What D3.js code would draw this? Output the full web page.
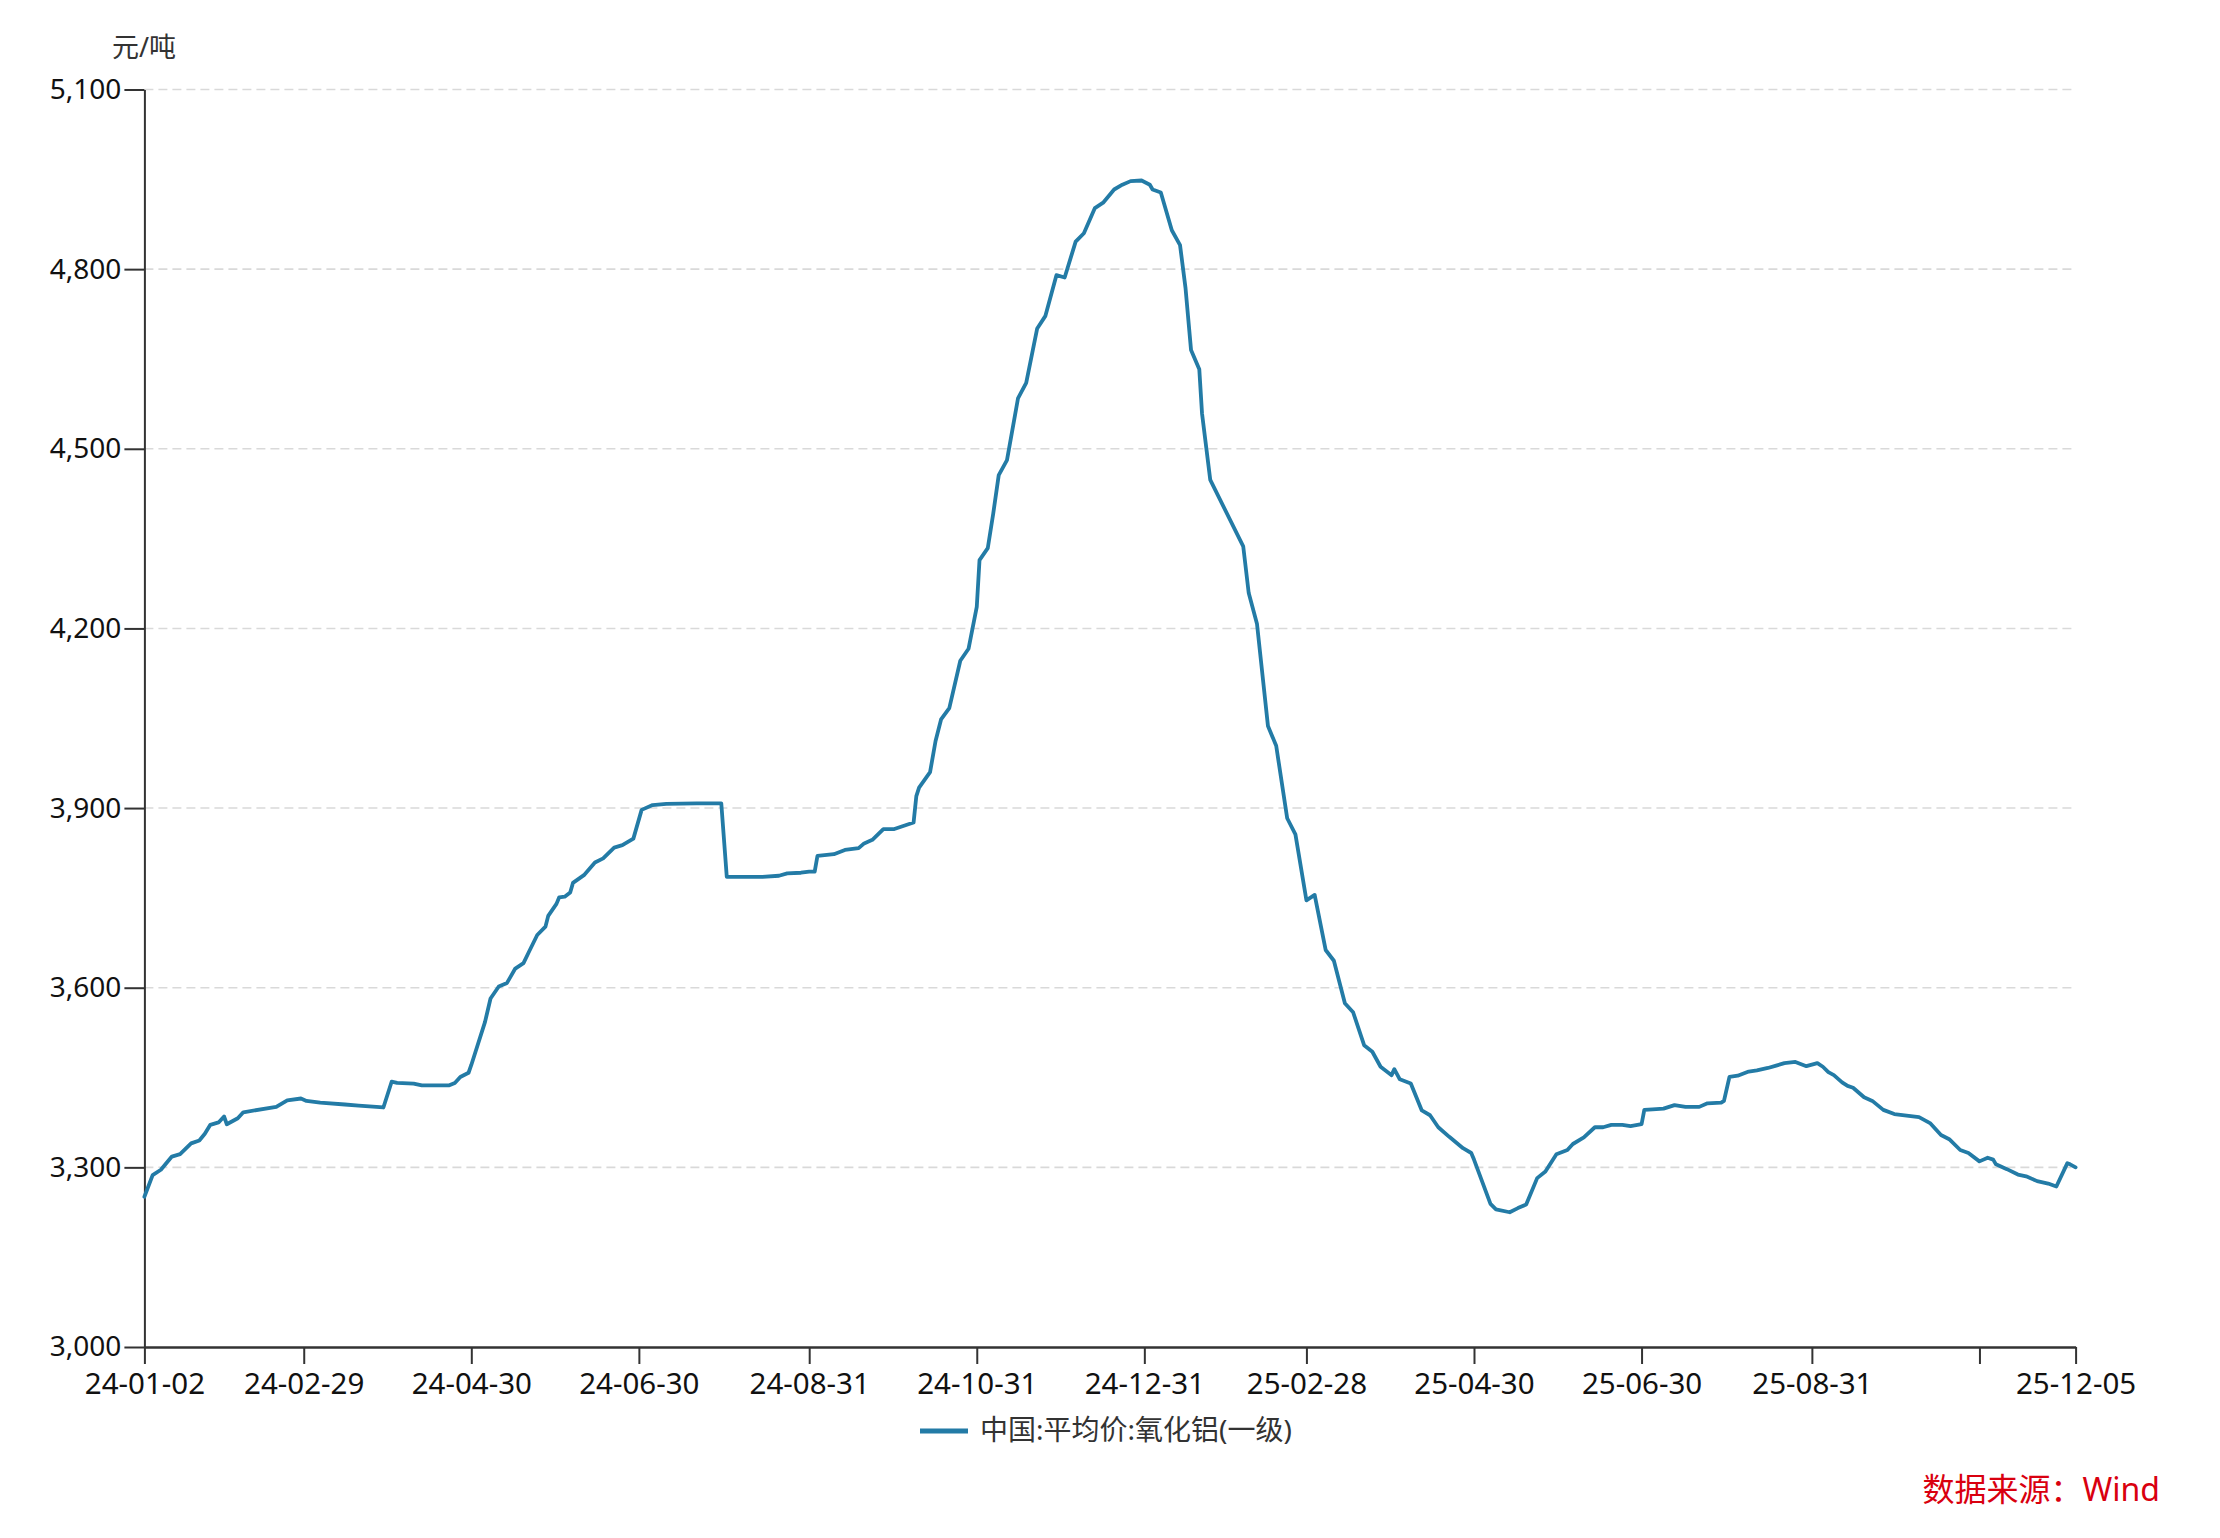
<!DOCTYPE html>
<html><head><meta charset="utf-8">
<script src="https://cdn.jsdelivr.net/npm/d3@7"></script>
<style>
body{margin:0;background:#fff;}
svg text{font-family:"Noto Sans","Noto Sans CJK SC",sans-serif;}
</style></head><body>
<svg id="chart" width="2220" height="1538"></svg>
<script>
const dates = ["2024-01-02","2024-01-05","2024-01-08","2024-01-12","2024-01-15","2024-01-19","2024-01-22","2024-01-24","2024-01-26","2024-01-29","2024-01-31","2024-02-01","2024-02-05","2024-02-07","2024-02-19","2024-02-23","2024-02-28","2024-03-01","2024-03-06","2024-03-15","2024-03-20","2024-03-29","2024-04-01","2024-04-03","2024-04-09","2024-04-12","2024-04-22","2024-04-24","2024-04-26","2024-04-29","2024-04-30","2024-05-05","2024-05-07","2024-05-10","2024-05-13","2024-05-16","2024-05-19","2024-05-21","2024-05-24","2024-05-27","2024-05-28","2024-05-31","2024-06-01","2024-06-03","2024-06-05","2024-06-06","2024-06-10","2024-06-14","2024-06-17","2024-06-21","2024-06-24","2024-06-28","2024-07-01","2024-07-05","2024-07-10","2024-07-21","2024-07-30","2024-08-01","2024-08-14","2024-08-20","2024-08-23","2024-08-28","2024-08-31","2024-09-02","2024-09-03","2024-09-09","2024-09-13","2024-09-18","2024-09-20","2024-09-23","2024-09-27","2024-10-01","2024-10-08","2024-10-09","2024-10-10","2024-10-14","2024-10-16","2024-10-18","2024-10-21","2024-10-25","2024-10-28","2024-10-31","2024-11-01","2024-11-04","2024-11-06","2024-11-08","2024-11-11","2024-11-15","2024-11-18","2024-11-22","2024-11-25","2024-11-29","2024-12-02","2024-12-06","2024-12-09","2024-12-13","2024-12-16","2024-12-20","2024-12-23","2024-12-26","2024-12-30","2025-01-02","2025-01-03","2025-01-06","2025-01-10","2025-01-13","2025-01-15","2025-01-17","2025-01-20","2025-01-21","2025-01-24","2025-02-05","2025-02-07","2025-02-10","2025-02-14","2025-02-17","2025-02-21","2025-02-24","2025-02-28","2025-03-03","2025-03-07","2025-03-10","2025-03-14","2025-03-17","2025-03-21","2025-03-24","2025-03-27","2025-03-31","2025-04-01","2025-04-03","2025-04-07","2025-04-11","2025-04-14","2025-04-17","2025-04-21","2025-04-26","2025-04-29","2025-04-30","2025-05-06","2025-05-08","2025-05-13","2025-05-16","2025-05-19","2025-05-23","2025-05-26","2025-05-30","2025-06-03","2025-06-05","2025-06-09","2025-06-13","2025-06-16","2025-06-19","2025-06-23","2025-06-26","2025-06-30","2025-07-01","2025-07-04","2025-07-08","2025-07-12","2025-07-16","2025-07-21","2025-07-24","2025-07-29","2025-07-30","2025-08-01","2025-08-04","2025-08-08","2025-08-11","2025-08-15","2025-08-18","2025-08-21","2025-08-25","2025-08-29","2025-09-02","2025-09-04","2025-09-06","2025-09-08","2025-09-11","2025-09-13","2025-09-15","2025-09-19","2025-09-22","2025-09-26","2025-09-30","2025-10-09","2025-10-13","2025-10-17","2025-10-20","2025-10-24","2025-10-27","2025-10-31","2025-11-03","2025-11-05","2025-11-06","2025-11-10","2025-11-14","2025-11-17","2025-11-21","2025-11-25","2025-11-28","2025-12-02","2025-12-03","2025-12-05"];
const values = [3251,3287,3296,3318,3322,3340,3345,3356,3371,3375,3385,3372,3382,3392,3401,3412,3415,3411,3408,3405,3403,3400,3443,3441,3440,3437,3437,3441,3451,3458,3471,3543,3582,3602,3608,3632,3641,3660,3688,3702,3720,3740,3751,3752,3759,3775,3788,3809,3816,3834,3838,3849,3897,3905,3907,3908,3908,3785,3785,3787,3791,3792,3794,3794,3820,3823,3830,3833,3841,3847,3865,3865,3876,3920,3934,3960,4012,4048,4067,4146,4166,4236,4314,4334,4392,4456,4481,4584,4610,4701,4722,4790,4786,4846,4860,4902,4911,4933,4941,4947,4948,4941,4933,4928,4865,4840,4768,4665,4633,4559,4448,4337,4259,4208,4037,4004,3883,3856,3746,3755,3663,3645,3574,3559,3504,3493,3468,3454,3464,3447,3440,3395,3387,3367,3351,3332,3324,3313,3239,3230,3225,3232,3238,3282,3293,3322,3329,3339,3350,3367,3367,3371,3371,3369,3372,3396,3397,3398,3404,3401,3401,3407,3408,3411,3451,3453,3460,3462,3466,3470,3474,3476,3469,3474,3468,3459,3454,3442,3436,3433,3417,3411,3396,3389,3384,3374,3354,3347,3329,3324,3310,3316,3313,3305,3297,3288,3285,3277,3273,3268,3307,3305,3300];
const yTicks = [3000,3300,3600,3900,4200,4500,4800,5100];
const xTickDates = ["2024-01-02","2024-02-29","2024-04-30","2024-06-30","2024-08-31","2024-10-31","2024-12-31","2025-02-28","2025-04-30","2025-06-30","2025-08-31","2025-10-31","2025-12-05"];
const xTickLabels = ["24-01-02","24-02-29","24-04-30","24-06-30","24-08-31","24-10-31","24-12-31","25-02-28","25-04-30","25-06-30","25-08-31","","25-12-05"];
const seriesName = "中国:平均价:氧化铝(一级)";
const unitLabel = "元/吨";
const sourceLabel = "数据来源：Wind";

(function(){
const parse = d3.timeParse("%Y-%m-%d");
const data = dates.map((d,i)=>({date:parse(d), value:values[i]}));
const tickDates = xTickDates.map(parse);

const svg = d3.select("#chart");
const mLeft = 144.4, mRight = 2075.6, mTop = 89.5, mBottom = 1347;
const x = d3.scaleTime().domain([parse("2024-01-02"), parse("2025-12-05")]).range([mLeft, mRight]);
const y = d3.scaleLinear().domain([3000, 5100]).range([mBottom, mTop]);
const axisColor = "#333333";
const fontLatin = "'Noto Sans','Noto Sans CJK SC',sans-serif";
const fontCJK = "'Noto Sans CJK SC',sans-serif";

// gridlines
svg.append("g").selectAll("line").data(yTicks.filter(v=>v>3000)).join("line")
  .attr("x1", mLeft).attr("x2", mRight - 4)
  .attr("y1", d=>y(d)).attr("y2", d=>y(d))
  .attr("stroke", "#d9d9d9").attr("stroke-width", 1.6)
  .attr("stroke-dasharray", "9,5");

// y axis
const yAxis = svg.append("g").attr("transform", `translate(${mLeft},0)`)
  .call(d3.axisLeft(y).tickValues(yTicks).tickFormat(d3.format(",")).tickSize(20).tickSizeOuter(0).tickPadding(3));
yAxis.select(".domain").attr("stroke", axisColor).attr("stroke-width", 2);
yAxis.selectAll(".tick line").attr("stroke", axisColor).attr("stroke-width", 2);
yAxis.selectAll(".tick text").attr("font-size", 28).attr("fill", "#111").attr("font-family", fontLatin);

// x axis
const xAxis = svg.append("g").attr("transform", `translate(0,${mBottom})`)
  .call(d3.axisBottom(x).tickValues(tickDates).tickFormat((d,i)=>xTickLabels[i]).tickSize(17).tickSizeOuter(0).tickPadding(9));
xAxis.select(".domain").attr("stroke", axisColor).attr("stroke-width", 2.5);
xAxis.selectAll(".tick line").attr("stroke", axisColor).attr("stroke-width", 2);
xAxis.selectAll(".tick text").attr("font-size", 29.5).attr("fill", "#111").attr("font-family", fontLatin);

// line
const line = d3.line().x(d=>x(d.date)).y(d=>y(d.value));
svg.append("path").datum(data).attr("d", line)
  .attr("fill", "none").attr("stroke", "#237ba6").attr("stroke-width", 3.8)
  .attr("stroke-linejoin", "round").attr("stroke-linecap", "round");

// unit label
svg.append("text").attr("x", 144).attr("y", 57).attr("text-anchor", "middle")
  .attr("font-size", 27).attr("fill", "#333").attr("font-family", fontCJK).text(unitLabel);

// legend
const lg = svg.append("g");
lg.append("line").attr("x1", 920).attr("x2", 968).attr("y1", 1431).attr("y2", 1431)
  .attr("stroke", "#237ba6").attr("stroke-width", 5);
lg.append("text").attr("x", 980).attr("y", 1440).attr("font-size", 28).attr("fill", "#333")
  .attr("font-family", fontCJK).text(seriesName);

// source
svg.append("text").attr("x", 2160).attr("y", 1501).attr("text-anchor", "end")
  .attr("font-size", 32).attr("fill", "#d9000f").attr("font-family", fontCJK).text(sourceLabel);
})();
</script>
</body></html>
